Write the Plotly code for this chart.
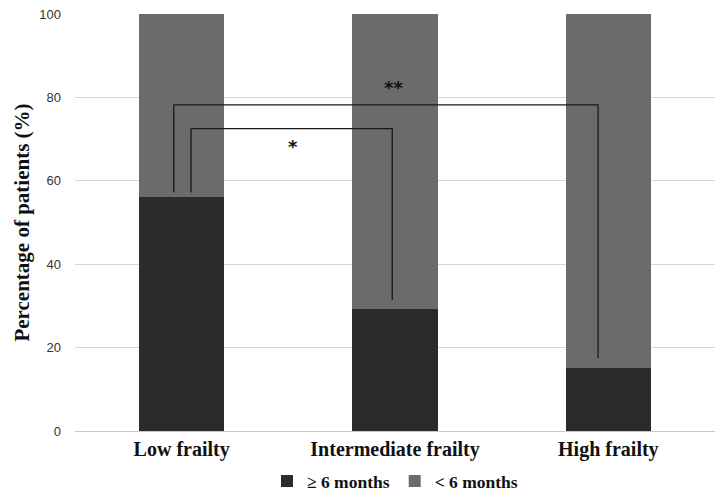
import plotly.graph_objects as go

categories = ["Low frailty", "Intermediate frailty", "High frailty"]
ge6_months = [56, 29.3, 15.2]
lt6_months = [100 - v for v in ge6_months]
y_ticks = [0, 20, 40, 60, 80, 100]

# significance brackets: (x_left, x_right, y_top, y_left_end, y_right_end, label, label_x, label_y)
brackets = [
    (-0.037, 1.952, 78.2, 57.2, 17.5, "**", 0.995, 82.3),
    (0.044, 0.987, 72.5, 57.2, 31.4, "*", 0.52, 68.2),
]

fig = go.Figure()
fig.add_trace(go.Bar(x=categories, y=ge6_months, name="<b>≥ 6 months</b>",
                     marker=dict(color="#2b2b2b", line=dict(width=0)), width=0.4))
fig.add_trace(go.Bar(x=categories, y=lt6_months, name="<b>< 6 months</b>",
                     marker=dict(color="#6b6b6b", line=dict(width=0)), width=0.4))

for xl, xr, yt, yl, yr, lab, lx, ly in brackets:
    fig.add_trace(go.Scatter(x=[xl, xl, xr, xr], y=[yl, yt, yt, yr], mode="lines",
                             line=dict(color="#1a1a1a", width=1.3), showlegend=False,
                             hoverinfo="skip", xaxis="x2"))
    fig.add_annotation(x=lx, y=ly, xref="x2", yref="y", text=f"<b>{lab}</b>", showarrow=False,
                       font=dict(family="DejaVu Sans, Arial", size=18, color="#111"))

fig.update_layout(
    barmode="stack",
    width=724, height=502,
    margin=dict(l=75, r=9, t=14, b=71, autoexpand=False),
    paper_bgcolor="white", plot_bgcolor="white",
    xaxis=dict(showgrid=False, showline=False, ticks="", range=[-0.5, 2.5], automargin=False,
               tickmode="array", tickvals=categories, ticktext=[f"<b>{c}</b>" for c in categories],
               tickfont=dict(family="Liberation Serif, Times New Roman", size=20, color="#111"),
               ticklabelstandoff=4,
               categoryorder="array", categoryarray=categories),
    xaxis2=dict(overlaying="x", range=[-0.5, 2.5], visible=False),
    yaxis=dict(range=[0, 100], tickvals=y_ticks, showgrid=True, gridcolor="#d4d4d4", gridwidth=1.3,
               zeroline=True, zerolinecolor="#c8c8c8", zerolinewidth=1.3, showline=False, ticks="",
               automargin=False,
               tickfont=dict(family="Liberation Sans, Arial", size=13, color="#333"),
               ticklabelstandoff=13,
               title=dict(text="<b>Percentage of patients (%)</b>", standoff=3,
                          font=dict(family="Liberation Serif, Times New Roman", size=21, color="#111"))),
    legend=dict(orientation="h", x=0.5, xanchor="center", y=-0.077, yanchor="top",
                font=dict(family="Liberation Serif, Times New Roman", size=17.5, color="#111"),
                traceorder="normal", itemwidth=30),
)

fig.write_html("out.html", config={"displayModeBar": False},
               post_script="document.body.style.margin='0';")
